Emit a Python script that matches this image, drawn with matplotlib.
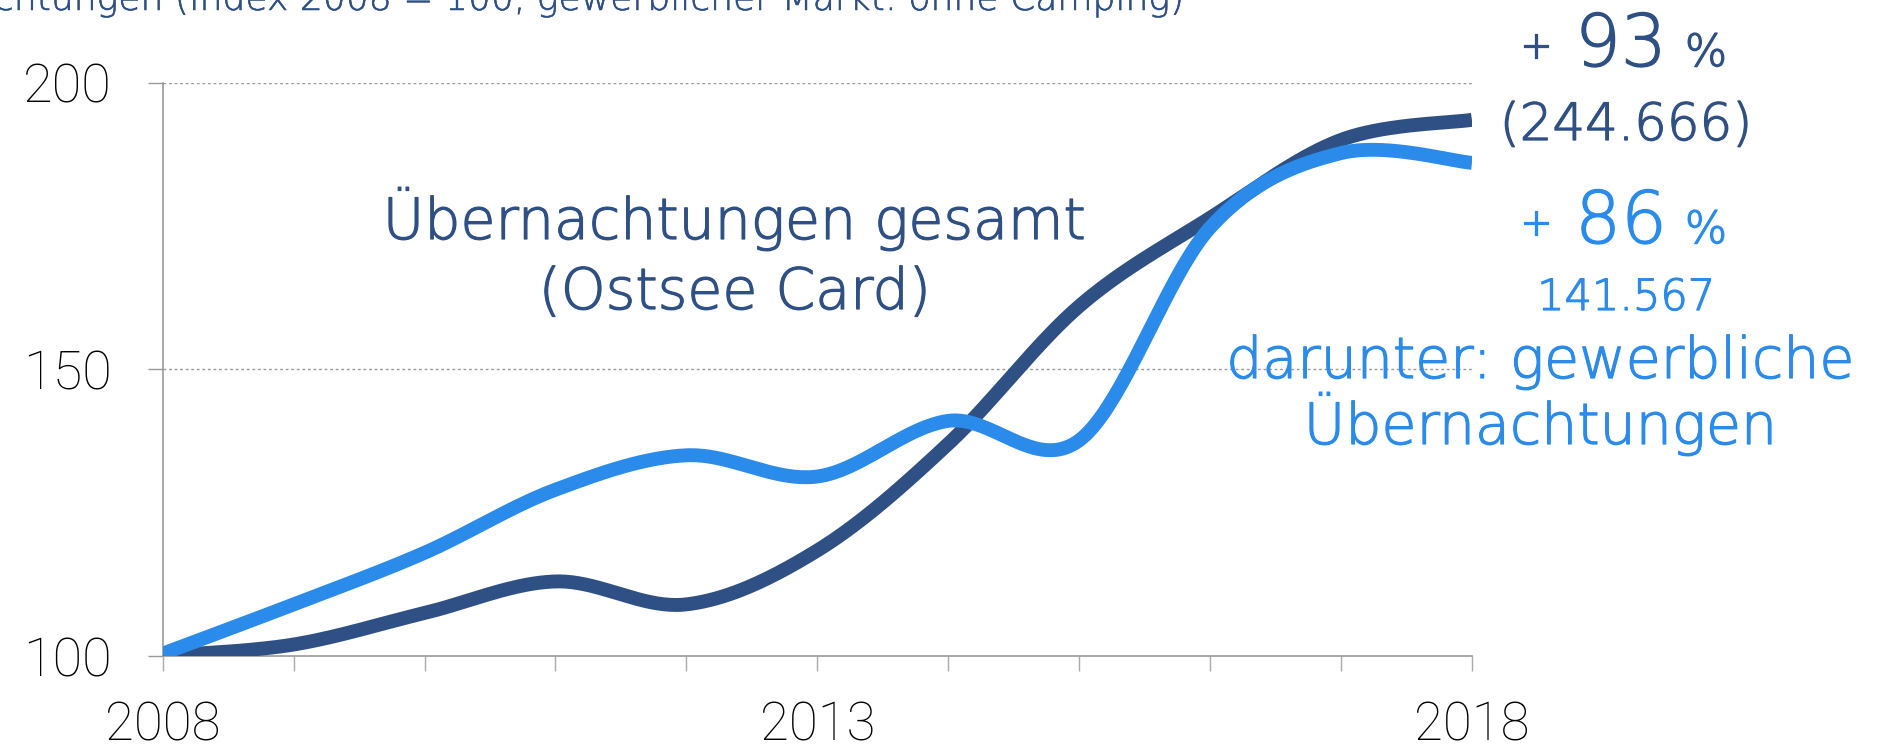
import numpy as np
import matplotlib
matplotlib.use("Agg")
import matplotlib.pyplot as plt
import matplotlib.patheffects as pe

years = [2008, 2009, 2010, 2011, 2012, 2013, 2014, 2015, 2016, 2017, 2018]
gesamt = [100, 102, 107.5, 113, 109, 118.4, 137, 161, 176.4, 190, 193.5]
gewerblich = [100.4, 109, 118, 129, 135, 131.3, 141, 137.6, 174.7, 187.7, 186]
y_ticks = [100, 150, 200]
x_labels = {2008: "2008", 2013: "2013", 2018: "2018"}

DARK = "#2F5085"
LIGHT = "#2A8BEB"
ANN = "DejaVu Sans"
TICKF = "Roboto"

W, H = 1877, 754


def fx(px):
    return px / W


def fy(py):
    return 1 - py / H


def smooth(x, y, n=40):
    # Catmull-Rom style smoothing (like spreadsheet "smoothed line")
    x = np.asarray(x, float)
    y = np.asarray(y, float)
    P = np.column_stack([x, y])
    P = np.vstack([P[0], P, P[-1]])
    out = []
    for i in range(1, len(P) - 2):
        p0, p1, p2, p3 = P[i - 1], P[i], P[i + 1], P[i + 2]
        c1 = p1 + (p2 - p0) / 6.0
        c2 = p2 - (p3 - p1) / 6.0
        t = np.linspace(0, 1, n, endpoint=(i == len(P) - 3))[:, None]
        seg = ((1 - t) ** 3) * p1 + 3 * ((1 - t) ** 2) * t * c1 + 3 * (1 - t) * t ** 2 * c2 + t ** 3 * p2
        out.append(seg)
    out = np.vstack(out)
    return out[:, 0], out[:, 1]


def txt(x, y, s, size, color, ha="center", va="baseline", stroke=0.9):
    effects = [pe.withStroke(linewidth=stroke, foreground=color)] if stroke else None
    return fig.text(fx(x), fy(y), s, ha=ha, va=va, fontsize=size, family=ANN,
                    fontweight="light", color=color, path_effects=effects)


fig = plt.figure(figsize=(18.77, 7.54), dpi=100)
ax = fig.add_axes([0.0867, 0.130, 0.6975, 0.7605])

sx, sy = smooth(years, gesamt)
ax.plot(sx, sy, color=DARK, lw=10, solid_capstyle="butt", zorder=3)
sx, sy = smooth(years, gewerblich)
ax.plot(sx, sy, color=LIGHT, lw=10, solid_capstyle="butt", zorder=4)

ax.set_xlim(2008, 2018)
ax.set_ylim(100, 200)
ax.set_yticks(y_ticks)
ax.set_yticklabels([str(v) for v in y_ticks], fontsize=39, family=TICKF, fontweight="light", color="black")
ax.set_xticks(years)
ax.set_xticklabels([x_labels.get(y, "") for y in years], fontsize=38, family=TICKF, fontweight="light", color="black")
ax.tick_params(axis="y", length=11, width=1, color="#999999", pad=26)
ax.tick_params(axis="x", length=11, width=1, color="#aaaaaa", pad=21)
for s in ["top", "right"]:
    ax.spines[s].set_visible(False)
for s in ["left", "bottom"]:
    ax.spines[s].set_color("#999999")
    ax.spines[s].set_linewidth(1.2)
for v in y_ticks[1:]:
    ax.axhline(v, color="#999999", lw=1, ls=(0, (2, 2)), zorder=1)

# title (cut off at the top-left in the original)
txt(1185, 10, "Übernachtungen (Index 2008 = 100, gewerblicher Markt: ohne Camping)", 26, DARK, ha="right", stroke=0.4)

txt(735, 239, "Übernachtungen gesamt", 41, DARK)
txt(735, 309, "(Ostsee Card)", 41, DARK)


def pct(base, num, color):
    txt(1536, base - 8, "+", 28, color)
    txt(1621, base, num, 52, color)
    txt(1706, base, "%", 32, color)


pct(66, "93", DARK)
txt(1626, 140, "(244.666)", 37, DARK)
pct(243, "86", LIGHT)
txt(1626, 310, "141.567", 31, LIGHT)
txt(1541, 378, "darunter: gewerbliche", 41, LIGHT)
txt(1541, 444, "Übernachtungen", 41, LIGHT)

fig.savefig("out.png", dpi=100)
